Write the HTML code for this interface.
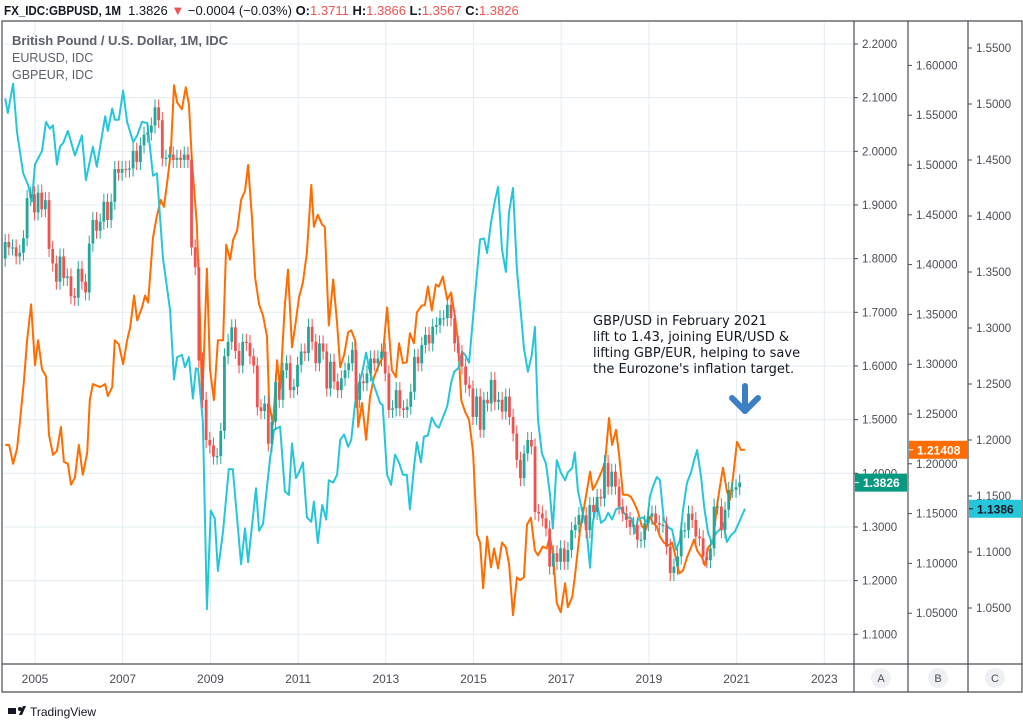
<!DOCTYPE html>
<html><head><meta charset="utf-8">
<style>
html,body{margin:0;padding:0;background:#fff;}
svg{display:block;font-family:"Liberation Sans",sans-serif;}
</style></head>
<body>
<svg id="chart" width="1023" height="721" viewBox="0 0 1023 721">
  <g>
    <text x="4" y="15" font-size="13" font-weight="bold" fill="#131722" textLength="117" lengthAdjust="spacingAndGlyphs">FX_IDC:GBPUSD, 1M</text>
    <text x="128" y="15" font-size="13" fill="#131722">1.3826 <tspan fill="#ef5350">▼</tspan> −0.0004 (−0.03%) <tspan font-weight="bold">O:</tspan><tspan fill="#ef5350">1.3711</tspan> <tspan font-weight="bold">H:</tspan><tspan fill="#ef5350">1.3866</tspan> <tspan font-weight="bold">L:</tspan><tspan fill="#ef5350">1.3567</tspan> <tspan font-weight="bold">C:</tspan><tspan fill="#ef5350">1.3826</tspan></text>
  </g>
  <g id="grid"></g>
  <g id="series" clip-path="url(#plotclip)"></g>
  <defs><clipPath id="plotclip"><rect x="3" y="22" width="851" height="642"/></clipPath></defs>
  <g>
    <text x="12" y="45" font-size="13" font-weight="bold" fill="#5d606b">British Pound / U.S. Dollar, 1M, IDC</text>
    <text x="12" y="62" font-size="12.5" fill="#5d606b">EURUSD, IDC</text>
    <text x="12" y="79" font-size="12.5" fill="#5d606b">GBPEUR, IDC</text>
  </g>
  <g font-family="'DejaVu Sans',sans-serif" font-size="13" fill="#131722">
    <text x="593" y="325">GBP/USD in February 2021</text>
    <text x="593" y="341">lift to 1.43, joining EUR/USD &amp;</text>
    <text x="593" y="357">lifting GBP/EUR, helping to save</text>
    <text x="593" y="373">the Eurozone's inflation target.</text>
  </g>
  <g stroke="#3d7fc4" stroke-width="6" stroke-linecap="round" stroke-linejoin="round" fill="none">
    <line x1="745" y1="386" x2="745" y2="411"/>
    <polyline points="732,398 745,411 758,398"/>
  </g>
  <g id="frame"></g>
  <g id="axes"></g>
  <g>
    <rect x="8" y="708" width="8" height="6" fill="#131722"/>
    <circle cx="20" cy="709" r="2" fill="#131722"/>
    <polygon points="19,715 23,706 26,706 22,715" fill="#131722"/>
    <text x="30" y="716" font-size="12" fill="#131722">TradingView</text>
  </g>
</svg>
<script>
// ---- Data ----
const candleStartYear = 2004.32;
const gbpusdClose = [
1.831,1.821,1.821,1.804,1.811,1.838,1.913,1.920,1.886,1.923,
1.892,1.909,1.818,1.791,1.757,1.804,1.764,1.767,1.730,1.727,
1.781,1.757,1.737,1.828,1.872,1.852,1.869,1.906,1.872,1.906,
1.967,1.960,1.967,1.966,1.968,2.001,1.980,2.011,2.031,2.035,
2.048,2.082,2.058,1.987,1.988,1.994,1.984,1.988,1.984,1.994,
1.984,1.821,1.784,1.610,1.537,1.462,1.452,1.431,1.432,1.479,
1.618,1.645,1.672,1.628,1.601,1.645,1.643,1.618,1.601,1.523,
1.516,1.530,1.455,1.496,1.570,1.537,1.592,
1.605,1.555,1.561,1.602,1.627,1.624,1.673,1.645,1.605,1.642,
1.627,1.558,1.608,1.571,1.555,1.577,1.592,1.605,1.630,1.537,
1.571,1.568,1.586,1.614,1.605,1.614,1.627,1.586,1.518,1.521,
1.555,1.521,1.518,1.524,1.552,1.617,1.605,1.639,1.658,1.642,
1.673,1.676,1.689,1.689,1.714,1.689,1.642,1.624,1.599,1.565,
1.558,1.505,1.543,1.481,1.537,1.530,1.574,1.533,1.537,1.515,
1.543,1.505,1.474,1.425,1.391,1.437,1.462,1.450,1.328,1.325,
1.316,1.297,1.226,1.251,1.235,1.260,1.235,
1.257,1.294,1.304,1.322,1.322,1.294,1.341,1.328,1.356,1.353,
1.419,1.375,1.403,1.375,1.338,1.325,1.313,1.300,1.304,1.276,
1.276,1.307,1.319,1.325,1.307,1.304,1.304,1.263,1.214,1.226,
1.245,1.294,1.294,1.325,1.313,1.282,1.279,1.245,1.238,1.260,
1.338,1.338,1.294,1.332,1.369,1.369,1.374,1.3826];
const gbpeurDates = [2004.32,2004.41,2004.50,2004.59,2004.66,2004.75,2004.82,2004.91,2005.00,2005.07,2005.16,2005.25,2005.32,2005.41,2005.50,2005.59,2005.66,2005.75,2005.82,2005.91,2006.00,2006.09,2006.19,2006.25,2006.32,2006.48,2006.60,2006.66,2006.76,2006.82,2006.91,2007.01,2007.10,2007.17,2007.26,2007.33,2007.44,2007.51,2007.58,2007.69,2007.78,2007.87,2007.94,2008.01,2008.10,2008.17,2008.24,2008.35,2008.44,2008.51,2008.58,2008.69,2008.76,2008.81,2008.85,2008.92,2008.99,2009.08,2009.17,2009.29,2009.36,2009.45,2009.52,2009.61,2009.70,2009.79,2009.86,2009.95,2010.02,2010.11,2010.20,2010.29,2010.34,2010.43,2010.52,2010.59,2010.70,2010.77,2010.86,2010.93,2011.02,2011.11,2011.20,2011.30,2011.36,2011.45,2011.55,2011.61,2011.70,2011.80,2011.89,2011.96,2012.05,2012.14,2012.21,2012.30,2012.37,2012.46,2012.55,2012.64,2012.73,2012.82,2012.93,2013.03,2013.14,2013.23,2013.30,2013.39,2013.48,2013.55,2013.64,2013.71,2013.82,2013.89,2013.96,2014.05,2014.14,2014.21,2014.30,2014.40,2014.49,2014.58,2014.65,2014.72,2014.81,2014.90,2014.99,2015.08,2015.15,2015.22,2015.31,2015.40,2015.47,2015.56,2015.65,2015.74,2015.81,2015.90,2015.99,2016.06,2016.15,2016.22,2016.31,2016.40,2016.47,2016.58,2016.67,2016.74,2016.81,2016.90,2016.99,2017.09,2017.15,2017.25,2017.31,2017.43,2017.54,2017.66,2017.72,2017.81,2017.91,2018.00,2018.09,2018.16,2018.25,2018.32,2018.41,2018.50,2018.59,2018.66,2018.75,2018.84,2018.93,2019.02,2019.09,2019.18,2019.25,2019.34,2019.44,2019.53,2019.59,2019.69,2019.78,2019.87,2019.96,2020.03,2020.10,2020.21,2020.28,2020.35,2020.46,2020.55,2020.62,2020.69,2020.78,2020.85,2020.92,2021.01,2021.10,2021.19];
const gbpeurValues = [1.219,1.219,1.200,1.215,1.244,1.284,1.324,1.360,1.299,1.324,1.295,1.288,1.229,1.209,1.213,1.237,1.202,1.200,1.179,1.186,1.219,1.189,1.211,1.264,1.280,1.277,1.280,1.268,1.277,1.324,1.320,1.300,1.324,1.337,1.369,1.344,1.357,1.369,1.362,1.427,1.449,1.465,1.458,1.481,1.514,1.580,1.563,1.556,1.578,1.561,1.503,1.441,1.349,1.262,1.306,1.396,1.295,1.264,1.324,1.324,1.420,1.405,1.425,1.434,1.465,1.474,1.500,1.445,1.387,1.360,1.349,1.328,1.259,1.240,1.304,1.275,1.360,1.395,1.317,1.337,1.367,1.382,1.412,1.480,1.438,1.450,1.440,1.438,1.339,1.385,1.341,1.297,1.309,1.332,1.334,1.324,1.237,1.261,1.224,1.267,1.287,1.297,1.307,1.357,1.294,1.287,1.321,1.301,1.302,1.331,1.321,1.352,1.359,1.359,1.378,1.354,1.380,1.378,1.388,1.365,1.372,1.347,1.321,1.264,1.252,1.244,1.211,1.129,1.121,1.075,1.127,1.096,1.115,1.095,1.121,1.116,1.100,1.048,1.086,1.083,1.086,1.139,1.146,1.113,1.108,1.117,1.115,1.127,1.110,1.060,1.051,1.080,1.056,1.066,1.086,1.134,1.161,1.192,1.174,1.181,1.191,1.202,1.246,1.219,1.234,1.209,1.169,1.169,1.167,1.161,1.152,1.137,1.134,1.147,1.141,1.137,1.127,1.121,1.118,1.121,1.110,1.090,1.093,1.106,1.116,1.124,1.113,1.106,1.098,1.116,1.121,1.157,1.177,1.196,1.172,1.164,1.187,1.222,1.214,1.21408];
const eurusdDates = [2004.32,2004.38,2004.50,2004.59,2004.73,2004.84,2004.93,2005.00,2005.16,2005.25,2005.34,2005.41,2005.50,2005.57,2005.64,2005.75,2005.91,2006.07,2006.16,2006.32,2006.41,2006.60,2006.66,2006.76,2006.82,2006.91,2007.01,2007.10,2007.24,2007.33,2007.44,2007.56,2007.62,2007.69,2007.78,2007.92,2008.08,2008.17,2008.24,2008.35,2008.42,2008.51,2008.60,2008.67,2008.72,2008.83,2008.92,2009.01,2009.10,2009.17,2009.29,2009.42,2009.51,2009.70,2009.79,2009.86,2010.04,2010.11,2010.20,2010.36,2010.45,2010.59,2010.70,2010.79,2010.86,2010.95,2011.02,2011.11,2011.20,2011.30,2011.36,2011.45,2011.55,2011.64,2011.70,2011.80,2011.89,2011.96,2012.05,2012.14,2012.21,2012.30,2012.37,2012.46,2012.55,2012.62,2012.71,2012.87,2012.93,2013.03,2013.12,2013.21,2013.30,2013.39,2013.48,2013.55,2013.64,2013.71,2013.80,2013.87,2013.96,2014.05,2014.14,2014.21,2014.30,2014.40,2014.49,2014.56,2014.65,2014.74,2014.81,2014.90,2014.99,2015.08,2015.15,2015.24,2015.31,2015.40,2015.49,2015.56,2015.65,2015.74,2015.81,2015.90,2015.99,2016.08,2016.15,2016.24,2016.33,2016.40,2016.47,2016.56,2016.65,2016.74,2016.81,2016.90,2016.99,2017.09,2017.15,2017.25,2017.31,2017.38,2017.47,2017.57,2017.66,2017.72,2017.81,2017.91,2018.00,2018.07,2018.16,2018.25,2018.34,2018.43,2018.52,2018.61,2018.68,2018.75,2018.87,2018.96,2019.02,2019.09,2019.18,2019.25,2019.34,2019.44,2019.53,2019.62,2019.71,2019.78,2019.87,2019.96,2020.03,2020.10,2020.19,2020.26,2020.35,2020.44,2020.53,2020.62,2020.69,2020.78,2020.87,2020.96,2021.05,2021.19];
const eurusdValues = [1.505,1.492,1.518,1.475,1.438,1.428,1.413,1.446,1.458,1.484,1.478,1.481,1.446,1.462,1.465,1.476,1.454,1.472,1.432,1.462,1.444,1.489,1.476,1.496,1.486,1.486,1.512,1.484,1.466,1.472,1.484,1.483,1.462,1.436,1.438,1.362,1.316,1.254,1.274,1.276,1.265,1.274,1.237,1.264,1.263,1.216,1.049,1.137,1.130,1.083,1.119,1.174,1.174,1.089,1.121,1.091,1.157,1.119,1.125,1.183,1.209,1.212,1.154,1.151,1.197,1.166,1.171,1.180,1.131,1.127,1.145,1.108,1.142,1.129,1.164,1.162,1.169,1.200,1.205,1.194,1.200,1.233,1.247,1.260,1.278,1.264,1.251,1.233,1.231,1.169,1.160,1.187,1.180,1.169,1.169,1.138,1.175,1.198,1.180,1.203,1.204,1.220,1.213,1.211,1.220,1.230,1.251,1.261,1.264,1.279,1.276,1.269,1.310,1.349,1.379,1.380,1.367,1.394,1.414,1.426,1.370,1.350,1.403,1.425,1.352,1.313,1.282,1.261,1.276,1.301,1.218,1.188,1.179,1.153,1.121,1.182,1.171,1.164,1.171,1.175,1.189,1.155,1.138,1.122,1.086,1.126,1.144,1.126,1.129,1.135,1.129,1.138,1.140,1.135,1.131,1.130,1.117,1.129,1.131,1.126,1.149,1.158,1.167,1.164,1.129,1.122,1.120,1.102,1.111,1.138,1.162,1.171,1.182,1.191,1.167,1.140,1.117,1.108,1.117,1.120,1.126,1.109,1.115,1.118,1.126,1.1386];
const xTickYears = [2005,2007,2009,2011,2013,2015,2017,2019,2021,2023];
const axisATicks = ["2.2000","2.1000","2.0000","1.9000","1.8000","1.7000","1.6000","1.5000","1.4000","1.3000","1.2000","1.1000"];
const axisBTicks = ["1.60000","1.55000","1.50000","1.45000","1.40000","1.35000","1.30000","1.25000","1.20000","1.15000","1.10000","1.05000"];
const axisCTicks = ["1.5500","1.5000","1.4500","1.4000","1.3500","1.3000","1.2500","1.2000","1.1500","1.1000","1.0500"];

// ---- Scales ----
const xs = t => 35 + (t - 2005) * 43.85;
const yA = v => 44 + (2.2 - v) * 536.6;
const yB = v => 414 + (1.25 - v) * 996;
const yC = v => 440 + (1.2 - v) * 1120;
const NS = "http://www.w3.org/2000/svg";
function mk(tag, attrs, parent) {
  const e = document.createElementNS(NS, tag);
  for (const k in attrs) e.setAttribute(k, attrs[k]);
  parent.appendChild(e);
  return e;
}
const grid = document.getElementById('grid');
const series = document.getElementById('series');
const frame = document.getElementById('frame');
const axes = document.getElementById('axes');

// grid
axisATicks.forEach(s => {
  const y = yA(parseFloat(s));
  const l = mk('line', {x1: 3, x2: 854, y1: y, y2: y, stroke: '#e3ecf2', 'stroke-width': 1}, grid);
  
  
});
xTickYears.forEach(yr => {
  const x = xs(yr);
  const l = mk('line', {x1: x, x2: x, y1: 22, y2: 664, stroke: '#e3ecf2', 'stroke-width': 1}, grid);
  
  
});

// GBPEUR line
let d = gbpeurValues.map((v, i) => (i ? 'L' : 'M') + xs(gbpeurDates[i]).toFixed(1) + ',' + yB(v).toFixed(1)).join('');
let p = mk('path', {d: d, fill: 'none', stroke: '#ff6d00', 'stroke-width': 2, 'stroke-linejoin': 'round'}, series);


// EURUSD line
d = eurusdValues.map((v, i) => (i ? 'L' : 'M') + xs(eurusdDates[i]).toFixed(1) + ',' + yC(v).toFixed(1)).join('');
p = mk('path', {d: d, fill: 'none', stroke: '#26c6da', 'stroke-width': 2, 'stroke-linejoin': 'round'}, series);



// candles
gbpusdClose.forEach((c, i) => {
  const o = i ? gbpusdClose[i - 1] : 1.80;
  const up = c >= o;
  const col = up ? '#26a69a' : '#ef5350';
  const x = xs(candleStartYear + i / 12);
  const hi = Math.max(o, c) + 0.015, lo = Math.min(o, c) - 0.015;
  const g = mk('g', {}, series);
  
  
  mk('line', {x1: x, x2: x, y1: yA(hi), y2: yA(lo), stroke: col, 'stroke-width': 1}, g);
  const top = yA(Math.max(o, c)), bot = yA(Math.min(o, c));
  mk('rect', {x: x - 1.4, y: top, width: 2.8, height: Math.max(1.2, bot - top), fill: col}, g);
});

// frame
[['M2,21H1022V692H2Z','chart-border'],['M854,21V692','axis-a-border'],['M908,21V692','axis-b-border'],['M968,21V692','axis-c-border'],['M2,664H1022','time-axis-border']].forEach(([dd,n]) => {
  const e = mk('path', {d: dd, fill: 'none', stroke: '#4a4d57', 'stroke-width': 1.2}, frame);
  
  
});

// axis labels
function axisLabels(ticks, scale, x0, name) {
  ticks.forEach(s => {
    const y = scale(parseFloat(s));
    mk('line', {x1: x0, x2: x0 + 4, y1: y, y2: y, stroke: '#4a4d57', 'stroke-width': 1}, axes);
    const t = mk('text', {x: x0 + 8, y: y + 4, 'font-size': 11.5, fill: '#4a4d57'}, axes);
    t.textContent = s;
    
    
  });
}
axisLabels(axisATicks, yA, 854, 'axis-a-label');
axisLabels(axisBTicks, yB, 908, 'axis-b-label');
axisLabels(axisCTicks, yC, 968, 'axis-c-label');
xTickYears.forEach(yr => {
  const t = mk('text', {x: xs(yr), y: 683, 'font-size': 12, fill: '#4a4d57', 'text-anchor': 'middle'}, axes);
  t.textContent = yr;
  
  
});
// price tags
function tag(x, w, v, scale, bg, fg, txt, name) {
  const y = scale(v);
  const g = mk('g', {}, axes);
  
  
  mk('rect', {x: x, y: y - 9, width: w, height: 18, fill: bg}, g);
  mk('line', {x1: x, x2: x + 4, y1: y, y2: y, stroke: fg, 'stroke-width': 1}, g);
  const t = mk('text', {x: x + 8, y: y + 4.5, 'font-size': 12, 'font-weight': 'bold', fill: fg}, g);
  t.textContent = txt;
}
tag(855, 52, 1.3826, yA, '#089981', '#ffffff', '1.3826', 'gbpusd-price-tag');
tag(909, 59, 1.21408, yB, '#ff6d00', '#ffffff', '1.21408', 'gbpeur-price-tag');
tag(969, 53, 1.1386, yC, '#26c6da', '#131722', '1.1386', 'eurusd-price-tag');
// scale letters
[['A',881],['B',938],['C',995]].forEach(([L,x]) => {
  const g = mk('g', {}, axes);
  
  
  mk('circle', {cx: x, cy: 678, r: 10, fill: '#eef0f4'}, g);
  const t = mk('text', {x: x, y: 682, 'font-size': 11, fill: '#4a4d57', 'text-anchor': 'middle'}, g);
  t.textContent = L;
});
</script>
</body></html>
